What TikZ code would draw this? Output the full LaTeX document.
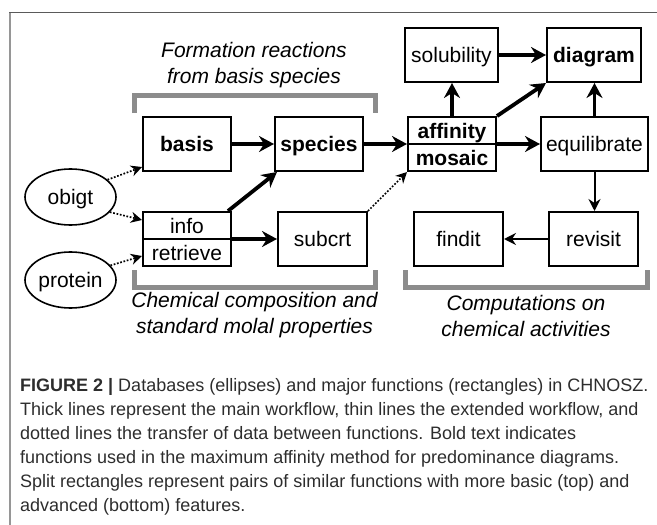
\documentclass[tikz,border=0pt]{standalone}
\usepackage{fontspec}
\setmainfont{Liberation Sans}
\usetikzlibrary{arrows.meta,shapes.geometric}
\definecolor{bracketgray}{RGB}{140,140,140}
\definecolor{framegray}{RGB}{150,150,150}
\definecolor{topgray}{RGB}{90,90,90}
\definecolor{captiongray}{RGB}{45,45,45}
\begin{document}
\begin{tikzpicture}[x=1pt,y=-1pt,
  lbl/.style={font=\fontsize{21}{25}\selectfont, text height=15pt, text depth=0pt},
  box/.style={draw=black, line width=2pt, minimum width=88pt, minimum height=54pt, inner sep=0pt, lbl},
  bbox/.style={box, font=\fontsize{21}{25}\selectfont\bfseries},
  db/.style={ellipse, draw=black, line width=1.6pt, minimum width=91pt, minimum height=56pt, inner sep=0pt, lbl},
  half/.style={inner sep=0pt, minimum width=88pt, minimum height=27pt, lbl},
  bhalf/.style={half, font=\fontsize{21}{25}\selectfont\bfseries},
  splitline/.style={draw=black, line width=2pt},
  mainflow/.style={line width=3.8pt, -{Stealth[length=15pt,width=16pt,inset=5pt]}},
  extflow/.style={line width=2pt, -{Stealth[length=12pt,width=12pt,inset=4pt]}},
  dataflow/.style={line width=1.7pt, dash pattern=on 1.7pt off 1.7pt, -{Stealth[length=11pt,width=11pt,inset=3.5pt]}},
  bracket/.style={draw=bracketgray, line width=5pt},
  grouplabel/.style={align=center, inner sep=0pt, font=\fontsize{21}{26}\selectfont\itshape},
  captionline/.style={anchor=base west, inner sep=0pt, text=captiongray, font=\fontsize{18}{24}\selectfont},
]
\useasboundingbox (0,0) rectangle (657,525);
% frame
\draw[framegray, line width=2pt] (10,12) -- (10,525);
\draw[topgray, line width=1pt] (9,12) -- (657,12);

% databases
\node[db] (obigt) at (70.5,197) {obigt};
\node[db] (protein) at (70.5,280) {protein};

% functions
\node[bbox] (basis) at (187,144) {basis};
\node[bbox] (species) at (319,144) {species};
\node[box] (affmos) at (452,144) {};
\node[bhalf] (affinity) at (452,131) {affinity};
\node[bhalf] (mosaic) at (452,157.5) {mosaic};
\draw[splitline] (affmos.west) -- (affmos.east);
\node[box, minimum width=93pt] (solubility) at (451.5,55) {solubility};
\node[bbox, minimum width=94pt] (diagram) at (594,55) {diagram};
\node[box, minimum width=107pt] (equilibrate) at (594.5,144) {equilibrate};

\node[box] (inforet) at (187,239) {};
\node[half] (info) at (187,225.5) {info};
\node[half] (retrieve) at (187,252.5) {retrieve};
\draw[splitline] (inforet.west) -- (inforet.east);
\node[box, minimum width=89pt] (subcrt) at (322.5,239) {subcrt};
\node[box, minimum width=89pt] (findit) at (458.5,239) {findit};
\node[box, minimum width=89pt] (revisit) at (593.5,239) {revisit};

% brackets
\draw[bracket] (134,113) -- (134,95) -- (375,95) -- (375,113);
\draw[bracket] (134,270) -- (134,287) -- (375,287) -- (375,270);
\draw[bracket] (405,270) -- (405,287) -- (647,287) -- (647,270);

% group labels
\node[grouplabel] (toplabel) at (254,65) {Formation reactions\\from basis species};
\node[grouplabel] (leftlabel) at (254.5,315.5) {Chemical composition and\\standard molal properties};
\node[grouplabel] (rightlabel) at (526,315.5) {Computations on\\chemical activities};

% main workflow
\draw[mainflow] (basis) -- (species);
\draw[mainflow] (species) -- (affmos.west);
\draw[mainflow] (affmos.north) -- (affmos.north |- solubility.south);
\draw[mainflow] (affmos.north east) -- (diagram.south west);
\draw[mainflow] (affmos.east) -- (equilibrate.west);
\draw[mainflow] (solubility) -- (diagram);
\draw[mainflow] (equilibrate.north) -- (equilibrate.north |- diagram.south);
\draw[mainflow] ([xshift=-4pt]inforet.north east) -- ([xshift=3pt]species.south west);
\draw[mainflow] (inforet.east) -- (subcrt.west);

% extended workflow
\draw[extflow] (equilibrate.south) -- (equilibrate.south |- revisit.north);
\draw[extflow] (revisit) -- (findit);

% data transfer
\draw[dataflow] (obigt.25) -- ([yshift=5pt]basis.south west);
\draw[dataflow] (obigt.-21) -- ([yshift=-9pt]inforet.north west);
\draw[dataflow] (protein.20) -- ([yshift=11pt]inforet.south west);
\draw[dataflow] (subcrt.north east) -- (affmos.south west);

% caption
\node[captionline] (cap1) at (20,391) {\textbf{FIGURE 2 |} Databases (ellipses) and major functions (rectangles) in CHNOSZ.};
\node[captionline] (cap2) at (20,415) {Thick lines represent the main workflow, thin lines the extended workflow, and};
\node[captionline] (cap3) at (20,439) {dotted lines the transfer of data between functions. Bold text indicates};
\node[captionline] (cap4) at (20,463) {functions used in the maximum affinity method for predominance diagrams.};
\node[captionline] (cap5) at (20,487) {Split rectangles represent pairs of similar functions with more basic (top) and};
\node[captionline] (cap6) at (20,511) {advanced (bottom) features.};
\end{tikzpicture}
\end{document}
